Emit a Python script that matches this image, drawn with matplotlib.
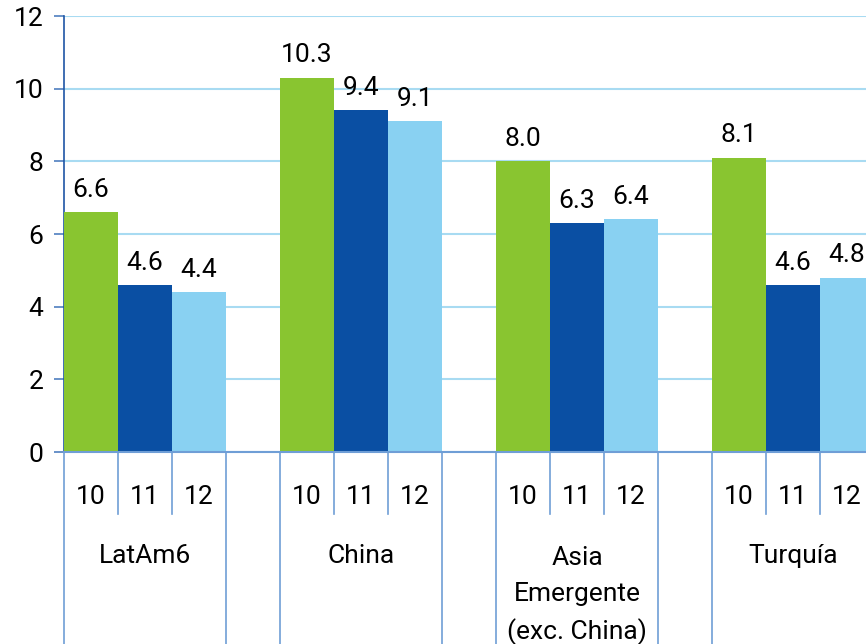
import numpy as np
import matplotlib.pyplot as plt
import matplotlib.transforms as mtransforms

plt.rcParams['font.family'] = ['Roboto', 'DejaVu Sans']

# datos
grupos = ['LatAm6', 'China', 'Asia\nEmergente\n(exc. China)', 'Turquía']
anios = ['10', '11', '12']
v10 = [6.6, 10.3, 8.0, 8.1]
v11 = [4.6, 9.4, 6.3, 4.6]
v12 = [4.4, 9.1, 6.4, 4.8]
colores = ['#89C530', '#0A4FA3', '#89D1F2']

fig = plt.figure(figsize=(8.66, 6.44), dpi=100)
# el gráfico original está recortado a la derecha
ax = fig.add_axes([64/866, (644-452)/644, 15*54/866, 436/644])

series = [v10, v11, v12]
for i, vals in enumerate(series):
    xs = np.arange(len(grupos))*4 + i + 0.5
    ax.bar(xs, vals, width=1.0, color=colores[i], zorder=3)
    for x, v in zip(xs, vals):
        ax.annotate('%.1f' % v, (x, v), xytext=(0, 11), textcoords='offset points',
                    ha='center', va='baseline', fontsize=19)

ax.set_xlim(0, 15)
ax.set_ylim(0, 12)
ax.set_yticks(range(0, 13, 2))
ax.tick_params(axis='y', labelsize=19, length=7, width=1.2, color='#4F7FC0', pad=8)
ax.set_xticks([])
ax.grid(axis='y', color='#A8DBF2', linewidth=1.5, zorder=0)
for s in ['top', 'right']:
    ax.spines[s].set_visible(False)
ax.spines['left'].set_color('#1F55A5')
ax.spines['left'].set_linewidth(1.2)
ax.spines['bottom'].set_color('#6F9ED6')
ax.spines['bottom'].set_linewidth(1.5)
ax.spines['bottom'].set_zorder(4)

# eje de categorías en dos niveles
trans = mtransforms.blended_transform_factory(ax.transData, ax.transAxes)
for g, nombre in enumerate(grupos):
    x0 = g*4
    for i, a in enumerate(anios):
        ax.text(x0 + i + 0.5, -0.103, a, transform=trans, ha='center', va='center',
                fontsize=19, clip_on=False)
    for i in [1, 2]:
        ax.plot([x0 + i, x0 + i], [0, -0.142], transform=trans, color='#6F9ED6',
                linewidth=1.2, clip_on=False)
    for xx in [x0, x0 + 3]:
        ax.plot([xx, xx], [0, -0.5], transform=trans, color='#6F9ED6',
                linewidth=1.2, clip_on=False)
    yc = -0.33 if '\n' in nombre else -0.239
    ax.text(x0 + 1.5, yc, nombre, transform=trans, ha='center', va='center',
            fontsize=19, linespacing=1.6, clip_on=False)

fig.savefig('out.png', dpi=100)
